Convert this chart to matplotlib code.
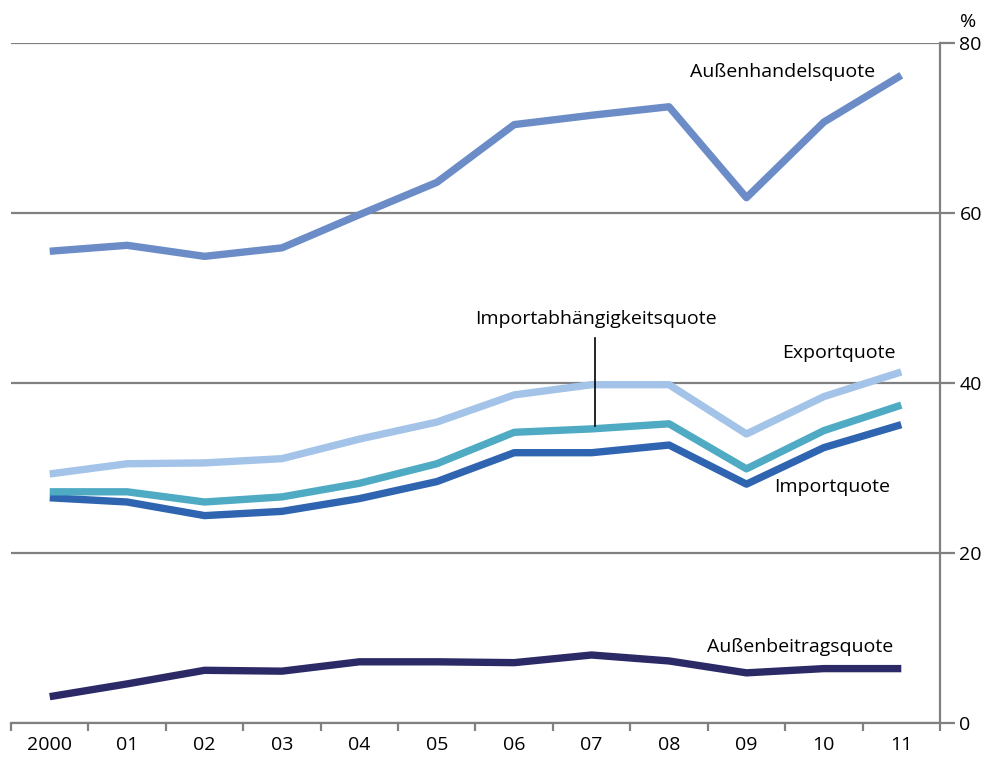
import matplotlib
matplotlib.use("Agg")
import matplotlib.pyplot as plt
import numpy as np

years = ["2000", "01", "02", "03", "04", "05", "06", "07", "08", "09", "10", "11"]
aussenhandel = [55.5, 56.2, 54.9, 55.9, 59.8, 63.6, 70.4, 71.5, 72.5, 61.8, 70.7, 76.2]
export = [29.3, 30.5, 30.6, 31.1, 33.4, 35.4, 38.6, 39.8, 39.8, 34.0, 38.4, 41.3]
importabh = [27.2, 27.2, 26.0, 26.6, 28.2, 30.5, 34.2, 34.6, 35.2, 29.9, 34.4, 37.4]
importq = [26.5, 26.0, 24.4, 24.9, 26.4, 28.4, 31.8, 31.8, 32.7, 28.1, 32.4, 35.1]
aussenbeitrag = [3.1, 4.6, 6.2, 6.1, 7.2, 7.2, 7.1, 8.0, 7.3, 5.9, 6.4, 6.4]
yticks = [0, 20, 40, 60, 80]

plt.rcParams['font.family'] = ['Open Sans', 'DejaVu Sans']
grey = "#808080"

fig = plt.figure(figsize=(9.85, 7.6), dpi=100)
ax = fig.add_axes([11/985, 37/760, 929/985, 680/760])

x = np.arange(len(years))
lw = 5.3
ax.plot(x, aussenhandel, color="#6b8cc7", lw=lw, solid_capstyle="butt", zorder=3)
ax.plot(x, export, color="#a3c4e8", lw=lw, solid_capstyle="butt", zorder=3)
ax.plot(x, importabh, color="#4eabc3", lw=lw, solid_capstyle="butt", zorder=4)
ax.plot(x, importq, color="#2e64b0", lw=lw, solid_capstyle="butt", zorder=3)
ax.plot(x, aussenbeitrag, color="#2c2a66", lw=lw, solid_capstyle="butt", zorder=3)

ax.set_xlim(-0.5, len(years) - 0.5)
ax.set_ylim(0, 80)

ax.yaxis.tick_right()
ax.set_yticks(yticks)
ax.set_yticklabels([str(v) for v in yticks])
ax.tick_params(axis="y", which="major", length=11, width=1.6, color=grey,
               labelsize=14, pad=3)
ax.grid(axis="y", color=grey, lw=1.6, zorder=1)

ax.set_xticks(x)
ax.set_xticklabels(years)
ax.set_xticks(np.arange(-0.5, len(years)), minor=True)
ax.tick_params(axis="x", which="major", length=0, labelsize=14, pad=9)
ax.tick_params(axis="x", which="minor", length=6, width=1.6, color=grey)

for s in ["top", "left"]:
    ax.spines[s].set_visible(False)
for s in ["right", "bottom"]:
    ax.spines[s].set_color(grey)
    ax.spines[s].set_linewidth(1.6)

fs = 14
ax.text(8.27, 76.6, "Außenhandelsquote", fontsize=fs, ha="left", va="center")
ax.text(9.46, 43.5, "Exportquote", fontsize=fs, ha="left", va="center")
ax.text(9.36, 27.8, "Importquote", fontsize=fs, ha="left", va="center")
ax.text(8.49, 8.9, "Außenbeitragsquote", fontsize=fs, ha="left", va="center")
ax.text(7.06, 47.5, "Importabhängigkeitsquote", fontsize=fs, ha="center", va="center")
ax.plot([7.05, 7.05], [35.0, 45.3], color="black", lw=1.2, zorder=5)

ax.text(1.030, 1.031, "%", transform=ax.transAxes, fontsize=14, ha="center", va="center")

fig.savefig("out.png", dpi=100)
